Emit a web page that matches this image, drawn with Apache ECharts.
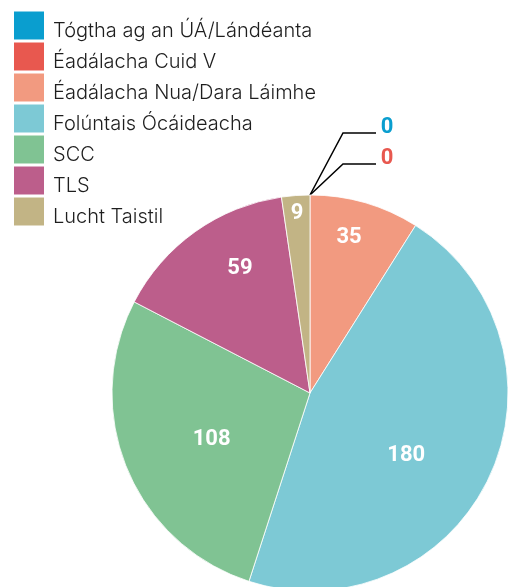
<!DOCTYPE html>
<html>
<head>
<meta charset="utf-8">
<script src="https://cdn.jsdelivr.net/npm/echarts@6/dist/echarts.min.js"></script>
<style>
	html, body { margin: 0; padding: 0; background: #fff; }
	#main { width: 509px; height: 587px; }
</style>
</head>
<body>
<div id="main"></div>
<script>
// data
var categories = ['Tógtha ag an ÚÁ/Lándéanta', 'Éadálacha Cuid V', 'Éadálacha Nua/Dara Láimhe', 'Folúntais Ócáideacha', 'SCC', 'TLS', 'Lucht Taistil'];
var values = [0, 0, 35, 180, 108, 59, 9];
var colors = ['#0a9ecf', '#e8584f', '#f29a80', '#7dc9d5', '#80c393', '#bc5e8b', '#c2b485'];

// label placement (radius factor, angle nudge in degrees)
var labelR = [1, 1, 0.81, 0.58, 0.55, 0.72, 0.91];
var labelNudge = [0, 0, -2, 8, -3, 6, 0];

var cx = 310, cy = 393, R = 198;

function sum(arr)
{
	var s = 0;
	for (var i = 0; i < arr.length; i++) s += arr[i];
	return s;
}

function mid_angle(i)
{
	var before = sum(values.slice(0, i));
	return (before + values[i] / 2) / sum(values) * 2 * Math.PI;
}

var data = [];
var zeros = [];
for (var i = 0; i < categories.length; i++)
{
	if (values[i] == 0) zeros.push(i);
	data.push({
		name: categories[i],
		value: values[i],
		itemStyle: { color: colors[i] },
		label: values[i] == 0 ? { position: 'outside', color: colors[i] } : { position: 'inside', color: '#fff' },
		labelLine: { show: values[i] == 0 }
	});
}

var dom = document.getElementById("main");
var myChart = echarts.init(dom);
var option = {
	backgroundColor: '#fff',
	animation: false,
	legend: {
		orient: 'vertical',
		left: 14,
		top: 10,
		padding: 0,
		itemWidth: 30,
		itemHeight: 28,
		itemGap: 0,
		icon: 'rect',
		symbolKeepAspect: false,
		itemStyle: { borderWidth: 0 },
		data: categories,
		formatter: function (name) {
			return '{t|' + name + '}';
		},
		textStyle: {
			rich: {
				t: {
					fontFamily: 'Inter',
					fontSize: 20,
					fontWeight: 300,
					lineHeight: 20,
					color: '#1e1e1e',
					padding: [11, 0, 0, 4]
				}
			}
		}
	},
	series: [
		{
			type: 'pie',
			center: [cx, cy],
			radius: R,
			startAngle: 90,
			clockwise: true,
			avoidLabelOverlap: false,
			data: data,
			itemStyle: {
				borderColor: '#fff',
				borderWidth: 0.8
			},
			label: {
				show: true,
				formatter: '{c}',
				fontFamily: 'Roboto',
				fontSize: 22,
				fontWeight: 'bold'
			},
			labelLine: {
				lineStyle: { color: '#000', width: 1.5 }
			},
			labelLayout: function (p) {
				var i = p.dataIndex;
				if (values[i] == 0)
				{
					var k = zeros.indexOf(i);
					var y = cy - R - 62 + k * 31;
					return {
						x: cx + 77,
						y: y - 6,
						align: 'center',
						verticalAlign: 'middle',
						labelLinePoints: [[cx, cy - R], [cx + 33, y], [cx + 66, y]]
					};
				}
				var a = mid_angle(i) + labelNudge[i] * Math.PI / 180;
				var r = R * labelR[i];
				return {
					x: cx + r * Math.sin(a),
					y: cy - r * Math.cos(a),
					align: 'center',
					verticalAlign: 'middle'
				};
			}
		}
	]
};
myChart.setOption(option, true);
</script>
</body>
</html>
